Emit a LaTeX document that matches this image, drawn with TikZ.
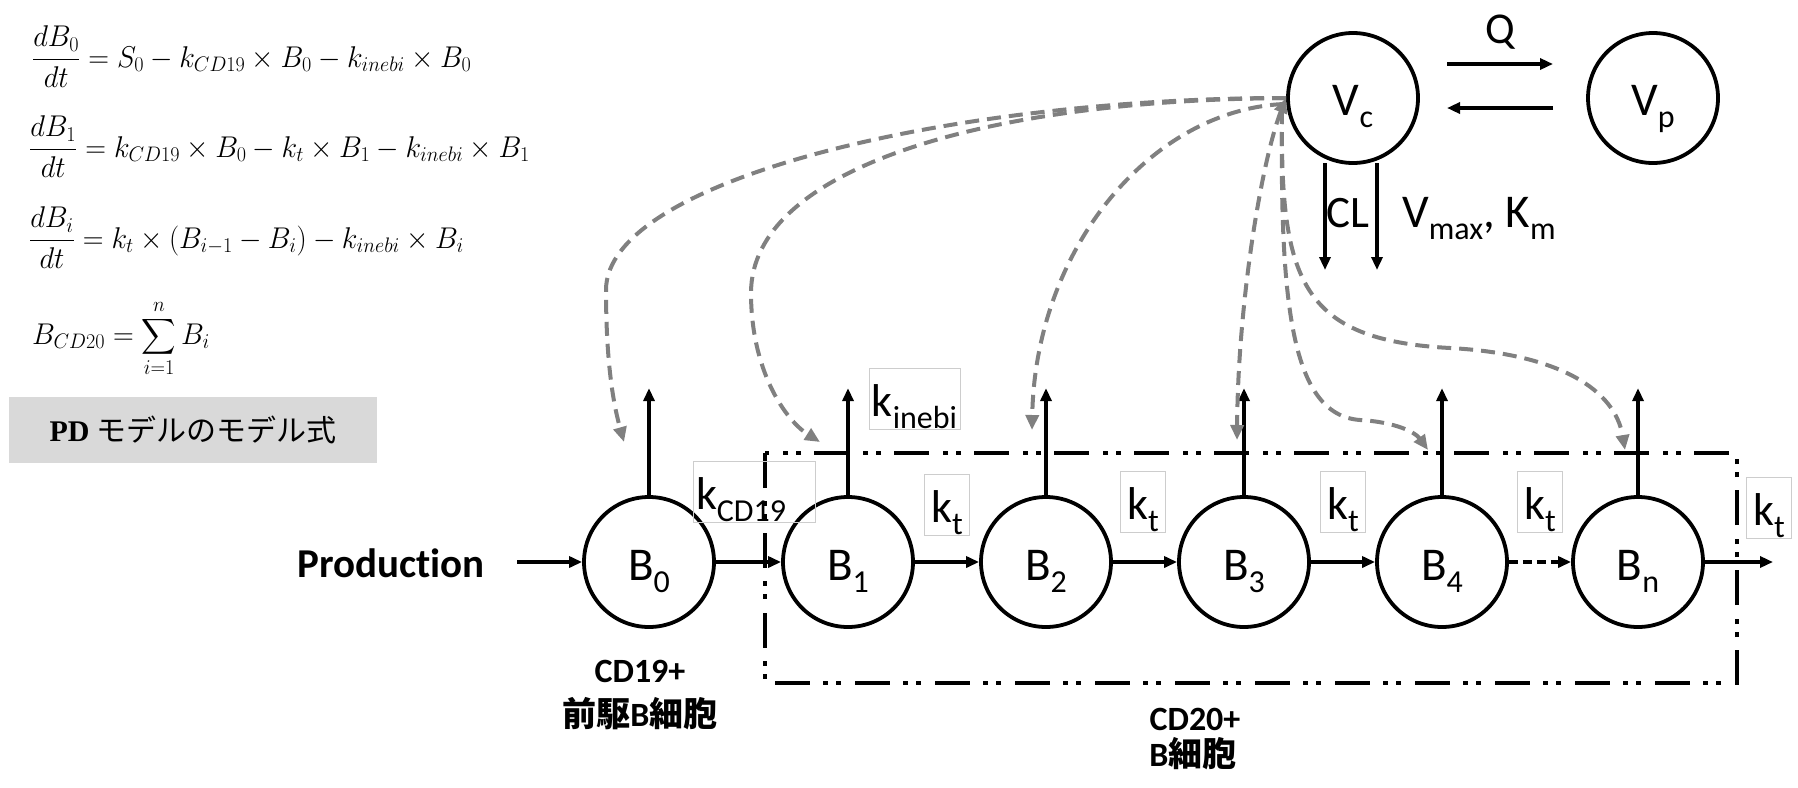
\RequirePackage{fix-cm}
\documentclass[tikz,border=0pt]{standalone}
\usepackage{exscale}
\usepackage{fontspec}
\setmainfont{Carlito}[Ligatures={NoCommon}]
\newfontfamily\cjkfont{Noto Sans CJK JP}
\newfontfamily\timesfont{Liberation Serif}
\usetikzlibrary{arrows.meta}
\newcommand\lsub[1]{\raisebox{-12pt}{\fontsize{32}{32}\selectfont #1}}
\definecolor{dgray}{RGB}{128,128,128}
\definecolor{boxgray}{RGB}{217,217,217}
\definecolor{rgray}{RGB}{205,205,205}
\begin{document}
\begin{tikzpicture}[x=1pt,y=-1pt,
  comp/.style={circle,draw,line width=3.8pt,minimum size=130pt,inner sep=0pt},
  ctext/.style={anchor=base,font=\fontsize{47}{50}\selectfont,inner sep=0pt},
  flow/.style={line width=3.5pt,-{Triangle[length=13pt,width=11pt]}},
  dflow/.style={flow,dash pattern=on 9pt off 5pt},
  ratebox/.style={draw=rgray,line width=0.8pt,anchor=base,inner xsep=3pt,inner ysep=0pt,
    text height=48pt,text depth=13pt,font=\fontsize{46}{50}\selectfont},
  ktbox/.style={ratebox,minimum width=45pt},
  gdash/.style={draw=dgray,line width=4pt,dash pattern=on 14pt off 8pt,
    -{Triangle[length=15pt,width=13pt,fill=dgray]}},
  ddd/.style={line width=4pt,dash pattern=on 35pt off 13pt on 5pt off 8pt on 5pt off 14pt},
  eqn/.style={anchor=base west,inner sep=0pt,font=\fontsize{30}{34}\selectfont},
  btxt/.style={anchor=base,inner sep=0pt,font=\fontsize{34}{38}\selectfont\bfseries}
]
\useasboundingbox (0,0) rectangle (1798,787);

% equations
\node[eqn] (eq1) at (32,67) {\scalebox{0.96}[1]{$\displaystyle \frac{dB_0}{dt} = S_0 - k_{CD19}\times B_0 - k_{inebi}\times B_0$}};
\node[eqn] (eq2) at (29,157) {\scalebox{0.96}[1]{$\displaystyle \frac{dB_1}{dt} = k_{CD19}\times B_0 - k_t\times B_1 - k_{inebi}\times B_1$}};
\node[eqn] (eq3) at (29,248) {\scalebox{0.96}[1]{$\displaystyle \frac{dB_i}{dt} = k_t\times (B_{i-1} - B_i) - k_{inebi}\times B_i$}};
\node[eqn] (eq4) at (32,344) {\scalebox{0.96}[1]{$\displaystyle B_{CD20} = \sum_{i=1}^{n} B_i$}};
\node[fill=boxgray,minimum width=368pt,minimum height=66pt,inner sep=0pt] (pdbox) at (193,430)
  {\fontsize{30}{32}\selectfont{\timesfont\bfseries PD} {\cjkfont モデルのモデル式}};

% dash-dot box
\draw[ddd] (765,453) rectangle (1737,683);

% compartments
\node[comp] (B0) at (649,562) {};
\node[comp] (B1) at (848,562) {};
\node[comp] (B2) at (1046,562) {};
\node[comp] (B3) at (1244,562) {};
\node[comp] (B4) at (1442,562) {};
\node[comp] (Bn) at (1638,562) {};
\node[comp] (Vc) at (1353,98) {};
\node[comp] (Vp) at (1653,98) {};
\node[ctext] (B0t) at ([yshift=-18pt]B0.center) {B\lsub{0}};
\node[ctext] (B1t) at ([yshift=-18pt]B1.center) {B\lsub{1}};
\node[ctext] (B2t) at ([yshift=-18pt]B2.center) {B\lsub{2}};
\node[ctext] (B3t) at ([yshift=-18pt]B3.center) {B\lsub{3}};
\node[ctext] (B4t) at ([yshift=-18pt]B4.center) {B\lsub{4}};
\node[ctext] (Bnt) at ([yshift=-18pt]Bn.center) {B\lsub{n}};
\node[ctext] (Vct) at ([yshift=-17pt]Vc.center) {V\lsub{c}};
\node[ctext] (Vpt) at ([yshift=-17pt]Vp.center) {V\lsub{p}};

% production
\node[anchor=base,inner sep=0pt,font=\fontsize{41}{44}\selectfont\bfseries] (prod) at (391,577) {Production};
\coordinate (pin) at (517,562);
\draw[flow] (pin) -- (B0);
\draw[flow] (B0) -- (B1);
\draw[flow] (B1) -- (B2);
\draw[flow] (B2) -- (B3);
\draw[flow] (B3) -- (B4);
\draw[dflow] (B4) -- (Bn);
\coordinate (bout) at (1773,562);
\draw[flow] (Bn) -- (bout);

% elimination arrows
\foreach \b in {B0,B1,B2,B3,B4,Bn}{
  \coordinate (\b up) at ([yshift=107pt]\b.north);
  \draw[flow] (\b.north) -- (\b up);
}

% rate labels
\node[ratebox] (kcd19) at (754,509) {\makebox[116pt][l]{k\lsub{CD19}}};
\node[ratebox] (kinebi) at (914.5,416) {k\lsub{inebi}};
\node[ktbox] (kt1) at (947,522) {k\lsub{t}};
\node[ktbox] (kt2) at (1143,519) {k\lsub{t}};
\node[ktbox] (kt3) at (1343,519) {k\lsub{t}};
\node[ktbox] (kt4) at (1540,519) {k\lsub{t}};
\node[ktbox] (kt5) at (1769,525) {k\lsub{t}};

% PK part
\coordinate (q1a) at (1447,64); \coordinate (q1b) at (1553,64);
\coordinate (q2a) at (1553,108); \coordinate (q2b) at (1447,108);
\draw[flow] (q1a) -- (q1b);
\draw[flow] (q2a) -- (q2b);
\node[anchor=base,inner sep=0pt,font=\fontsize{44}{48}\selectfont] (Q) at (1500,43) {Q};
\coordinate (cl1a) at (1325,163); \coordinate (cl1b) at (1325,270);
\coordinate (cl2a) at (1377,163); \coordinate (cl2b) at (1377,270);
\draw[flow] (cl1a) -- (cl1b);
\draw[flow] (cl2a) -- (cl2b);
\node[anchor=base west,inner sep=0pt,font=\fontsize{45}{48}\selectfont] (CL) at (1326,227) {CL};
\node[anchor=base west,inner sep=0pt,font=\fontsize{47}{50}\selectfont] (vmax) at (1402,227) {V\lsub{max}, K\lsub{m}};

% population labels
\node[btxt] (cd19a) at (640,682) {CD19+};
\node[btxt] (cd19b) at (640,726) {{\cjkfont\bfseries 前駆}B{\cjkfont\bfseries 細胞}};
\node[btxt] (cd20a) at (1195,730) {CD20+};
\node[btxt] (cd20b) at (1193,766) {B{\cjkfont\bfseries 細胞}};

% dashed drug-effect curves
\coordinate (vcl) at (1286,98);
\coordinate (b0tip) at (624,442);
\coordinate (b1tip) at (820,442);
\coordinate (b2tip) at (1032,430);
\coordinate (b3tip) at (1237,440);
\coordinate (b4tip) at (1428,450);
\coordinate (bntip) at (1625,450);
\draw[gdash] (vcl) .. controls (950,98) and (606,180) .. (606,290)
  .. controls (606,370) and (615,410) .. (b0tip);
\draw[gdash] (vcl) .. controls (980,100) and (751,170) .. (751,293)
  .. controls (751,370) and (785,420) .. (b1tip);
\draw[gdash] (1284,104) .. controls (1150,110) and (1035,250) .. (b2tip);
\draw[gdash,{Triangle[length=15pt,width=13pt,fill=dgray]}-{Triangle[length=15pt,width=13pt,fill=dgray]}]
  (vcl) .. controls (1262,160) and (1238,300) .. (b3tip);
\draw[gdash] (1282,110) .. controls (1280,300) and (1290,415) .. (1360,420)
  .. controls (1395,422) and (1415,432) .. (b4tip);
\draw[gdash] (1282,110) .. controls (1280,280) and (1300,340) .. (1450,348)
  .. controls (1560,354) and (1615,390) .. (bntip);
\end{tikzpicture}
\end{document}
